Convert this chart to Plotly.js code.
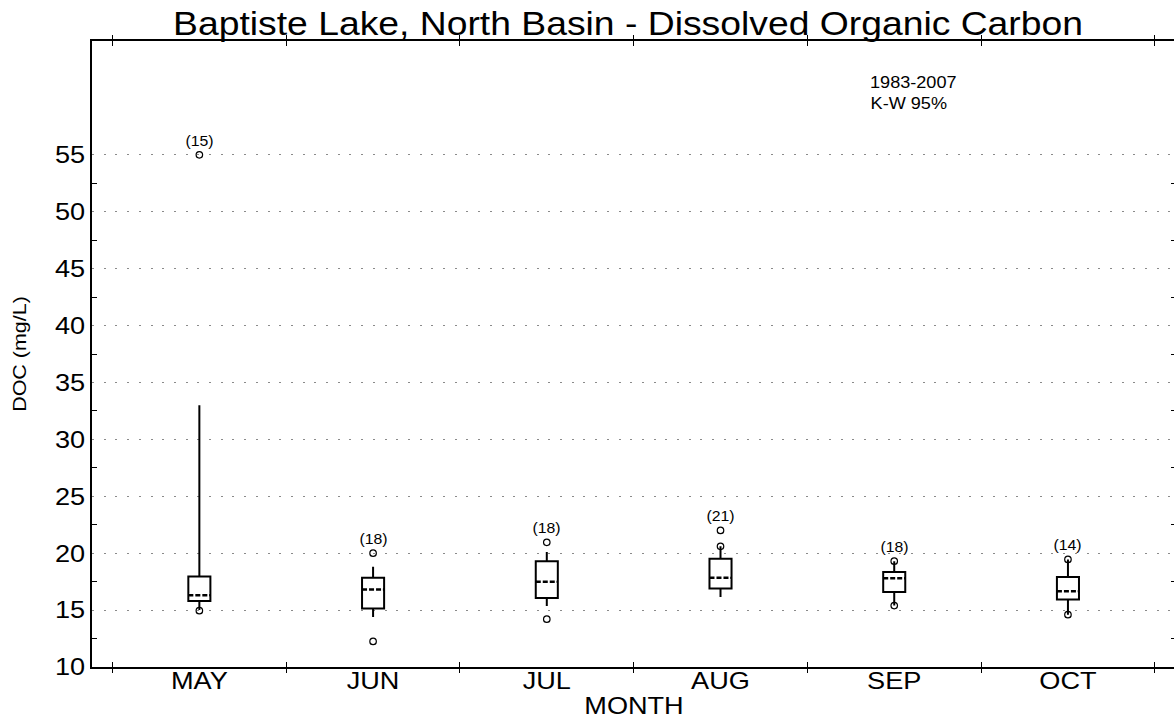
<!DOCTYPE html>
<html>
<head>
<meta charset="utf-8">
<script src="https://cdn.plot.ly/plotly-3.0.1.min.js"></script>
<style>
  html, body { margin: 0; padding: 0; overflow: hidden; background: #fff; }
  #chart { width: 1180px; height: 719px; }
</style>
</head>
<body>
<div id="chart"></div>
<script>
// Monthly DOC summaries, Baptiste Lake north basin, 1983-2007
const months = ['MAY', 'JUN', 'JUL', 'AUG', 'SEP', 'OCT'];
const sampleCounts = [15, 18, 18, 21, 18, 14];
const q1 = [15.8, 15.13, 16.07, 16.9, 16.6, 15.93];
const medians = [16.3, 16.8, 17.5, 17.85, 17.8, 16.65];
const q3 = [17.95, 17.85, 19.3, 19.5, 18.35, 17.9];
const lowerWhisker = [15.0, 14.4, 15.35, 16.15, 15.4, 14.6];
const upperWhisker = [33.0, 18.8, 20.1, 20.6, 19.3, 19.45];
// individual extreme values shown as open circles
const extremes = [
  [55.0, 14.95],
  [20.0, 12.25],
  [20.95, 14.2],
  [22.0, 20.6],
  [19.3, 15.4],
  [19.45, 14.6]
];
const yTicks = [10, 15, 20, 25, 30, 35, 40, 45, 50, 55];
const yMinorTicks = [12.5, 17.5, 22.5, 27.5, 32.5, 37.5, 42.5, 47.5, 52.5];
const monthBoundaries = [-0.5, 0.5, 1.5, 2.5, 3.5, 4.5, 5.5];

const FONT = 'Liberation Sans, Arial, sans-serif';
const TEXT_STRETCH = 1.13;   // wide lettering
const BOX_W = 0.127;
const SIDE_INSET = 0.007;    // keeps the median backing off the box sides
const X_RANGE = [-0.618, 5.622];
const Y_RANGE = [10, 65];

const boxTrace = {
  type: 'box',
  x: months,
  q1: q1,
  median: medians,
  q3: q3,
  lowerfence: lowerWhisker,
  upperfence: upperWhisker,
  width: BOX_W,
  whiskerwidth: 0,
  line: { color: '#000', width: 2 },
  fillcolor: 'rgba(0,0,0,0)',
  boxpoints: false,
  showlegend: false,
  hoverinfo: 'skip'
};

const exX = [], exY = [];
extremes.forEach((vals, i) => vals.forEach(v => { exX.push(months[i]); exY.push(v); }));
const extremeTrace = {
  type: 'scatter',
  mode: 'markers',
  x: exX,
  y: exY,
  marker: { symbol: 'circle-open', size: 6.5, color: '#000', line: { width: 1.2, color: '#000' } },
  showlegend: false,
  hoverinfo: 'skip'
};

// dashed medians: a white backing hides the solid box median, then the dashes go on top
function medianSegments(inset) {
  const xs = [], ys = [];
  medians.forEach((m, i) => {
    xs.push(i - BOX_W / 2 + inset, i + BOX_W / 2 - inset, null);
    ys.push(m, m, null);
  });
  return { xs, ys };
}
const backing = medianSegments(SIDE_INSET);
const medianBacking = {
  type: 'scatter',
  mode: 'lines',
  x: backing.xs,
  y: backing.ys,
  xaxis: 'x2',
  line: { color: '#fff', width: 3.5 },
  showlegend: false,
  hoverinfo: 'skip'
};
const dashes = medianSegments(0);
const medianTrace = {
  type: 'scatter',
  mode: 'lines',
  x: dashes.xs,
  y: dashes.ys,
  xaxis: 'x2',
  line: { color: '#000', width: 2.5, dash: '5px,2px' },
  showlegend: false,
  hoverinfo: 'skip'
};

const countLabels = months.map((m, i) => ({
  x: m,
  y: Math.max(...extremes[i]),
  xref: 'x', yref: 'y',
  text: '(' + sampleCounts[i] + ')',
  showarrow: false,
  yshift: 14,
  font: { family: FONT, size: 14, color: '#000' }
}));

const noteLines = ['1983-2007', 'K-W 95%'];
const notes = noteLines.map((t, i) => ({
  xref: 'paper', yref: 'paper',
  x: 0.7202, y: 0.9345 - i * 0.0351,
  xanchor: 'left', yanchor: 'middle',
  text: t,
  showarrow: false,
  font: { family: FONT, size: 16, color: '#000' }
}));

const layout = {
  width: 1180,
  height: 719,
  margin: { l: 92, r: 4, t: 41, b: 52 },
  paper_bgcolor: '#fff',
  plot_bgcolor: '#fff',
  font: { family: FONT, color: '#000' },
  title: {
    text: 'Baptiste Lake, North Basin - Dissolved Organic Carbon',
    font: { family: FONT, size: 33, color: '#000' },
    x: 0.4945, xref: 'paper', xanchor: 'center',
    y: 0.968, yref: 'container', yanchor: 'middle'
  },
  xaxis: {
    type: 'category',
    categoryorder: 'array',
    categoryarray: months,
    range: X_RANGE,
    tickson: 'boundaries',
    ticks: 'inside',
    ticklen: 5,
    tickwidth: 1,
    tickcolor: '#000',
    ticklabelstandoff: -9,
    showline: true,
    linecolor: '#000',
    linewidth: 2,
    mirror: 'ticks',
    showgrid: false,
    zeroline: false,
    tickfont: { family: FONT, size: 24, color: '#000' },
    title: { text: 'MONTH', font: { family: FONT, size: 24, color: '#000' }, standoff: 15 }
  },
  xaxis2: {
    overlaying: 'x',
    range: X_RANGE,
    tickvals: monthBoundaries,
    ticks: 'outside',
    ticklen: 5,
    tickwidth: 1,
    tickcolor: '#000',
    mirror: 'ticks',
    showticklabels: false,
    showline: false,
    showgrid: false,
    zeroline: false
  },
  yaxis: {
    range: Y_RANGE,
    tickvals: yTicks,
    ticks: '',
    showline: true,
    linecolor: '#000',
    linewidth: 2,
    mirror: 'ticks',
    showgrid: true,
    gridcolor: '#8a8a8a',
    gridwidth: 1,
    griddash: '2px,9.7px',
    zeroline: false,
    tickfont: { family: FONT, size: 24, color: '#000' },
    minor: { tickvals: yMinorTicks, ticks: 'inside', ticklen: 5, tickwidth: 1, tickcolor: '#000', showgrid: false },
    title: { text: 'DOC (mg/L)', font: { family: FONT, size: 19, color: '#000' }, standoff: 27 }
  },
  yaxis2: {
    overlaying: 'y',
    side: 'left',
    range: Y_RANGE,
    tickvals: yTicks,
    ticks: 'outside',
    ticklen: 6,
    tickwidth: 1,
    tickcolor: '#000',
    mirror: 'ticks',
    showticklabels: false,
    showline: false,
    showgrid: false,
    zeroline: false
  },
  annotations: countLabels.concat(notes)
};

// widen every label around its own anchor
function widenText(gd) {
  gd.querySelectorAll('svg text').forEach(t => {
    const lines = t.querySelectorAll('tspan.line');
    const targets = lines.length ? Array.from(lines) : [t];
    targets.forEach(el => {
      const w = el.getComputedTextLength();
      if (w > 0) {
        el.setAttribute('textLength', (w * TEXT_STRETCH).toFixed(1));
        el.setAttribute('lengthAdjust', 'spacingAndGlyphs');
      }
    });
  });
}

Plotly.newPlot('chart', [boxTrace, extremeTrace, medianBacking, medianTrace], layout, { displayModeBar: false, staticPlot: true })
  .then(widenText);
</script>
</body>
</html>
